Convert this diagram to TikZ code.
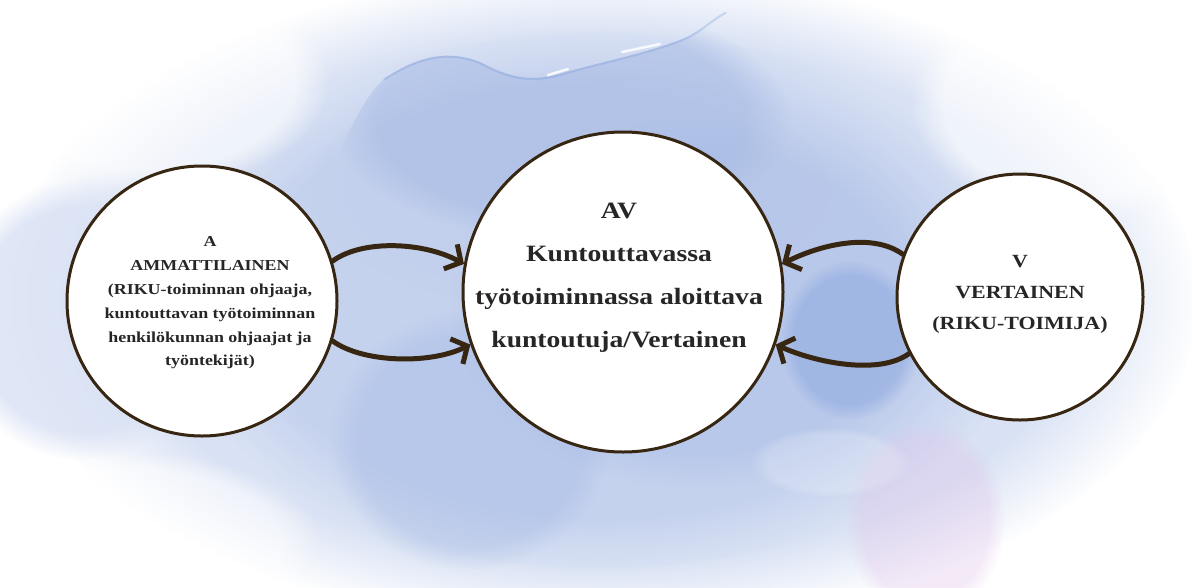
\documentclass[tikz,border=0pt]{standalone}
\usepackage{fontspec}
\setmainfont[FakeStretch=1.18]{Liberation Serif}
\usetikzlibrary{arrows.meta,fadings}
\definecolor{brn}{RGB}{55,38,18}
\definecolor{txt}{RGB}{38,38,38}
\definecolor{washA}{RGB}{216,225,244}
\definecolor{washB}{RGB}{192,206,237}
\definecolor{washC}{RGB}{166,186,228}
\definecolor{washD}{RGB}{118,152,216}
\definecolor{pinkw}{RGB}{224,196,234}
\tikzset{
  blob/.style={fill=#1, path fading=circle with fuzzy edge 20 percent},
  bubble/.style={circle, draw=brn, line width=3pt, fill=white, inner sep=0pt},
  conn/.style={draw=brn, line width=5pt, line cap=round,
    -{Straight Barb[length=12pt,width=28pt,line width=5pt]}},
  lbl/.style={text=txt, align=center, inner sep=0pt}
}
\begin{document}
\begin{tikzpicture}[x=1pt,y=-1pt]
\useasboundingbox (0,0) rectangle (1192,587);
\fill[white] (0,0) rectangle (1192,587);
% watercolour wash
\fill[blob=washA, fill opacity=0.95] (600,300) ellipse [x radius=600pt, y radius=330pt];
\fill[blob=washA, fill opacity=0.8] (80,320) ellipse [x radius=130pt, y radius=140pt];
\fill[blob=washB, fill opacity=0.8] (600,300) ellipse [x radius=430pt, y radius=270pt];
\fill[blob=washB, fill opacity=0.4] (570,190) ellipse [x radius=260pt, y radius=120pt];
\fill[blob=washC, fill opacity=0.4] (470,440) ellipse [x radius=140pt, y radius=130pt];
\fill[blob=washC, fill opacity=0.4] (700,300) ellipse [x radius=250pt, y radius=190pt];
\fill[blob=washD, fill opacity=0.35] (850,340) ellipse [x radius=70pt, y radius=80pt];
\fill[blob=pinkw, fill opacity=0.35] (925,520) ellipse [x radius=80pt, y radius=100pt];
\fill[blob=white, fill opacity=0.6] (150,80) ellipse [x radius=180pt, y radius=110pt];
\fill[blob=white, fill opacity=0.6] (1080,100) ellipse [x radius=170pt, y radius=120pt];
\fill[blob=white, fill opacity=0.5] (120,540) ellipse [x radius=200pt, y radius=90pt];
\fill[blob=white, fill opacity=0.2] (830,462) ellipse [x radius=80pt, y radius=35pt];
% upper wash edge: darker wash below the wavy edge
\begin{scope}
  \clip (300,300) -- (330,170) .. controls (350,130) and (365,95) .. (385,78)
    .. controls (420,55) and (450,50) .. (480,62)
    .. controls (510,78) and (530,82) .. (560,74)
    .. controls (600,62) and (640,55) .. (680,40)
    .. controls (700,32) and (710,20) .. (725,12)
    -- (1000,12) -- (1000,300) -- cycle;
  \fill[blob=washC, fill opacity=0.55] (560,120) ellipse [x radius=230pt, y radius=120pt];
  \draw[washD, line width=4pt, opacity=0.3, line cap=round]
    (385,78) .. controls (420,55) and (450,50) .. (480,62)
    .. controls (510,78) and (530,82) .. (560,74)
    .. controls (600,62) and (640,55) .. (680,40)
    .. controls (700,32) and (710,20) .. (725,12);
\end{scope}
\draw[white, line width=2.5pt, opacity=0.85, line cap=round]
  (548,75) -- (568,69) (622,52) -- (660,44);
% circles
\node[bubble, minimum size=270pt] (A) at (202,301) {};
\node[bubble, minimum size=320pt] (C) at (623,292) {};
\node[bubble, minimum size=246pt] (V) at (1020,297) {};
% texts
\node[lbl, font=\bfseries\fontsize{15.2}{23.8}\selectfont] (At) at (210,303)
  {A\\AMMATTILAINEN\\(RIKU-toiminnan ohjaaja,\\kuntouttavan työtoiminnan\\henkilökunnan ohjaajat ja\\työntekijät)};
\node[lbl, font=\bfseries\fontsize{23.4}{43}\selectfont] (Ct) at (619,278)
  {AV\\Kuntouttavassa\\työtoiminnassa aloittava\\kuntoutuja/Vertainen};
\node[lbl, font=\bfseries\fontsize{18.6}{31}\selectfont] (Vt) at (1020,294)
  {V\\VERTAINEN\\(RIKU-TOIMIJA)};
% connectors
\draw[conn] (A.17) .. controls +(30,-22) and +(-40,-22) .. (C.170);
\draw[conn] (A.-17) .. controls +(30,22) and +(-40,20) .. (C.199);
\draw[conn] (V.160) .. controls +(-30,-22) and +(40,-20) .. (C.10);
\draw[conn] (V.207) .. controls +(-30,22) and +(40,18) .. (C.-19);
\end{tikzpicture}
\end{document}
